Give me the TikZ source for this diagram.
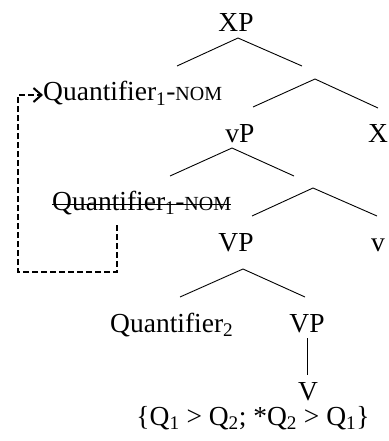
\documentclass[tikz,border=0pt]{standalone}
\usepackage{fontspec}
\setmainfont{Liberation Serif}
\usetikzlibrary{arrows.meta}
\newcommand{\smallcap}[1]{{\fontsize{20}{22}\selectfont #1}}
\newcommand{\subs}[1]{\textsubscript{#1}}
\begin{document}
\begin{tikzpicture}[x=1pt,y=-1pt,
  lbl/.style={inner sep=0pt,anchor=base,font=\fontsize{27.5}{32}\selectfont},
  branch/.style={line width=0.9pt},
  move/.style={line width=2.2pt,dash pattern=on 6pt off 3pt}]
\useasboundingbox (0,0) rectangle (388,441);
% labels
\node[lbl] (xp) at (236,32) {XP};
\node[lbl,anchor=base west] (q1) at (43,101) {Quantifier\subs{1}-\smallcap{NOM}};
\node[lbl] (vpsmall) at (240,142) {vP};
\node[lbl] (x) at (378,142) {X};
\node[lbl,anchor=base west] (q1c) at (52,210) {Quantifier\subs{1}-\smallcap{NOM}};
\node[lbl] (vp1) at (236,251) {VP};
\node[lbl] (v) at (378,251) {v};
\node[lbl,anchor=base west] (q2) at (110,332) {Quantifier\subs{2}};
\node[lbl] (vp2) at (307,332) {VP};
\node[lbl] (vv) at (308,400) {V};
\node[lbl] (sc) at (253,425) {\{Q\subs{1} > Q\subs{2}; *Q\subs{2} > Q\subs{1}\}};
% branch points
\coordinate (a1) at (238,38); \coordinate (l1) at (177,66); \coordinate (r1) at (302,66);
\coordinate (a2) at (315,79); \coordinate (l2) at (253,107); \coordinate (r2) at (378,108);
\coordinate (a3) at (232,148); \coordinate (l3) at (170,176); \coordinate (r3) at (294,176);
\coordinate (a4) at (313,188); \coordinate (l4) at (252,216); \coordinate (r4) at (377,216);
\coordinate (a5) at (243,269); \coordinate (l5) at (180,297); \coordinate (r5) at (305,297);
\coordinate (t6) at (307,338); \coordinate (b6) at (307,375);
\draw[branch] (l1) -- (a1) -- (r1);
\draw[branch] (l2) -- (a2) -- (r2);
\draw[branch] (l3) -- (a3) -- (r3);
\draw[branch] (l4) -- (a4) -- (r4);
\draw[branch] (l5) -- (a5) -- (r5);
\draw[branch] (t6) -- (b6);
% strike-through
\draw[line width=1pt] ([yshift=5.5]q1c.base west) -- ([yshift=5.5]q1c.base east);
% movement arrow
\coordinate (m0) at (117,225);
\draw[move,-{Straight Barb[length=8pt,width=14pt,line width=2pt]}]
  (m0) -- (117,272) -- (18,272) -- (18,95) -- (q1.west |- 0,95);
\end{tikzpicture}
\end{document}
